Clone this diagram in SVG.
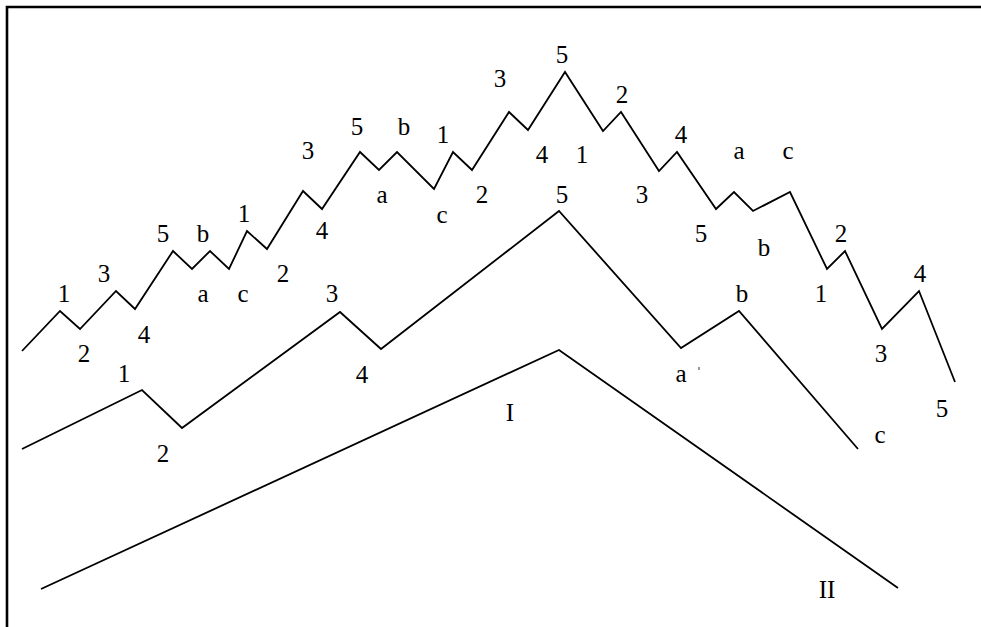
<svg xmlns="http://www.w3.org/2000/svg" width="981" height="627" viewBox="0 0 981 627">
<style>
.w{fill:none;stroke:#000;stroke-width:1.8;stroke-linejoin:miter}
.b{fill:none;stroke:#000;stroke-width:2.6}
.t{font-family:'Liberation Serif','Times New Roman',Times,serif;font-size:25px;fill:#000;text-anchor:middle}
</style>
<rect width="981" height="627" fill="#fff"/>
<g id="frame"><path class="b" d="M7,627 V7 H981"/></g>
<g id="connectors">
<polyline id="wave-top" class="w" points="22,351 60,311 80,329 116,291 135,309 173,251 192,269 210,251 229,269 247,231 267,249 303,191 322,209 360,152 379,170 397,152 434,189 453,152 472,170 509,112 528,130 565,72 603,131 621,112 659,171 677,152 716,209 734,192 753,211 790,192 827,269 845,251 882,329 919,291 955,382"/>
<polyline id="wave-mid" class="w" points="22,449 142,390 182,428 340,312 381,349 559,211 681,348 739,311 858,449"/>
<polyline id="wave-low" class="w" points="41,589 559,350 898,588"/>
<path d="M699,367 v3" stroke="#000" stroke-width="0.8"/>
</g>
<g id="labels-top" class="t">
<text x="64" y="302">1</text>
<text x="84" y="362">2</text>
<text x="104" y="282">3</text>
<text x="144" y="343">4</text>
<text x="163" y="242">5</text>
<text x="203" y="302">a</text>
<text x="203" y="242">b</text>
<text x="243" y="302">c</text>
<text x="244" y="222">1</text>
<text x="283" y="282">2</text>
<text x="308" y="159">3</text>
<text x="322" y="239">4</text>
<text x="357" y="135">5</text>
<text x="382" y="203">a</text>
<text x="404" y="135">b</text>
<text x="442" y="223">c</text>
<text x="443" y="143">1</text>
<text x="482" y="203">2</text>
<text x="500" y="87">3</text>
<text x="542" y="163">4</text>
<text x="562" y="63">5</text>
<text x="582" y="163">1</text>
<text x="622" y="103">2</text>
<text x="642" y="203">3</text>
<text x="681" y="143">4</text>
<text x="701" y="242">5</text>
<text x="739" y="159">a</text>
<text x="764" y="256">b</text>
<text x="788" y="159">c</text>
<text x="821" y="302">1</text>
<text x="841" y="242">2</text>
<text x="881" y="362">3</text>
<text x="920" y="282">4</text>
<text x="942" y="417">5</text>
</g>
<g id="labels-mid" class="t">
<text x="124" y="382">1</text>
<text x="163" y="462">2</text>
<text x="332" y="302">3</text>
<text x="362" y="383">4</text>
<text x="562" y="203">5</text>
<text x="681" y="382">a</text>
<text x="742" y="302">b</text>
<text x="880" y="443">c</text>
</g>
<g id="labels-low" class="t">
<text x="510" y="421">I</text>
<text x="827" y="598">II</text>
</g>
</svg>
